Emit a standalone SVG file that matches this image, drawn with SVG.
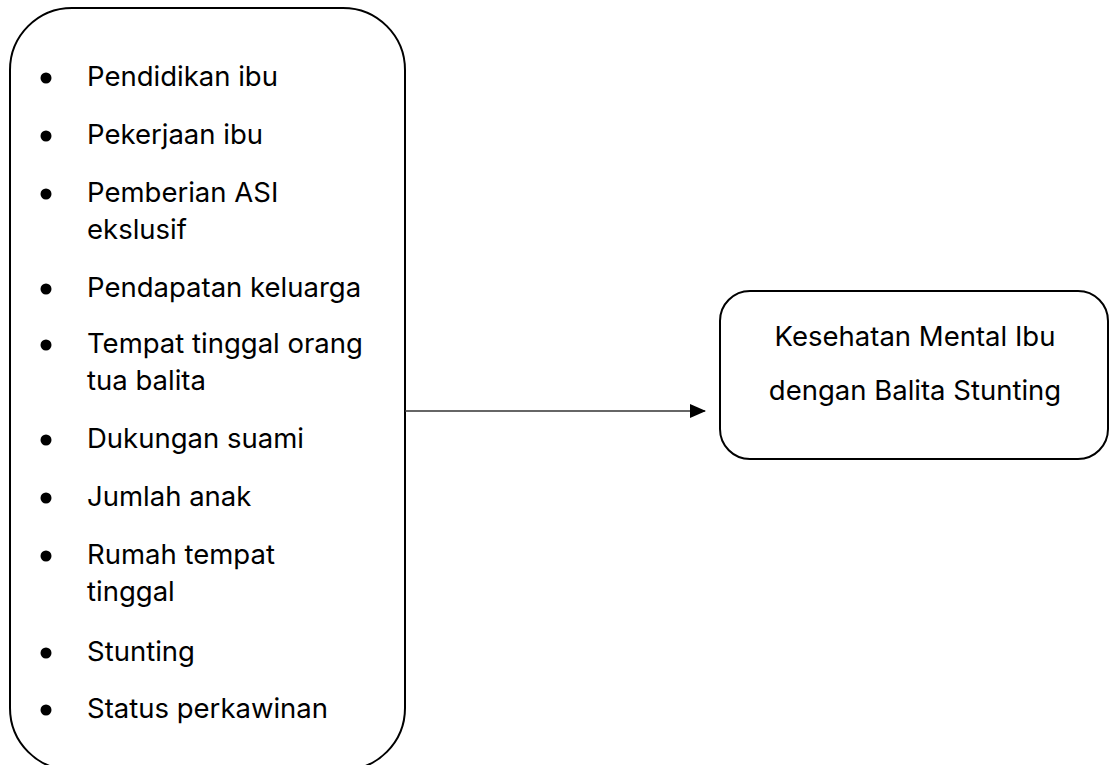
<svg xmlns="http://www.w3.org/2000/svg" width="1111" height="765" viewBox="0 0 1111 765">
<style>
.box{fill:#fff;stroke:#000;stroke-width:2}
.t{font-family:Inter,"Liberation Sans",sans-serif;font-size:27.5px;fill:#000}
.b{fill:#000}
</style>
<defs>
<marker id="ah" markerWidth="16" markerHeight="14" refX="15" refY="7" orient="auto" markerUnits="userSpaceOnUse">
<path d="M0,0 L16,7 L0,14 Z" fill="#000"/>
</marker>
</defs>
<rect width="1111" height="765" fill="#fff"/>
<g id="factors">
<rect class="box" x="10" y="8" width="395" height="762" rx="62" ry="62"/>
<g class="t">
<circle class="b" cx="46" cy="78" r="5.5"/><text x="87" y="86">Pendidikan ibu</text>
<circle class="b" cx="46" cy="136" r="5.5"/><text x="87" y="144">Pekerjaan ibu</text>
<circle class="b" cx="46" cy="194" r="5.5"/><text x="87" y="202">Pemberian ASI</text><text x="87" y="239">ekslusif</text>
<circle class="b" cx="46" cy="289" r="5.5"/><text x="87" y="297">Pendapatan keluarga</text>
<circle class="b" cx="46" cy="345" r="5.5"/><text x="87" y="353">Tempat tinggal orang</text><text x="87" y="390">tua balita</text>
<circle class="b" cx="46" cy="440" r="5.5"/><text x="87" y="448">Dukungan suami</text>
<circle class="b" cx="46" cy="498" r="5.5"/><text x="87" y="506">Jumlah anak</text>
<circle class="b" cx="46" cy="556" r="5.5"/><text x="87" y="564">Rumah tempat</text><text x="87" y="601">tinggal</text>
<circle class="b" cx="46" cy="653" r="5.5"/><text x="87" y="661">Stunting</text>
<circle class="b" cx="46" cy="710" r="5.5"/><text x="87" y="718">Status perkawinan</text>
</g>
</g>
<g id="outcome">
<rect class="box" x="720" y="291" width="388" height="168" rx="30" ry="30"/>
<text class="t" x="915" y="346" text-anchor="middle">Kesehatan Mental Ibu</text>
<text class="t" x="915" y="400" text-anchor="middle">dengan Balita Stunting</text>
</g>
<g id="connectors">
<line x1="405" y1="411" x2="705" y2="411" stroke="#333" stroke-width="1.5" marker-end="url(#ah)"/>
</g>
</svg>
